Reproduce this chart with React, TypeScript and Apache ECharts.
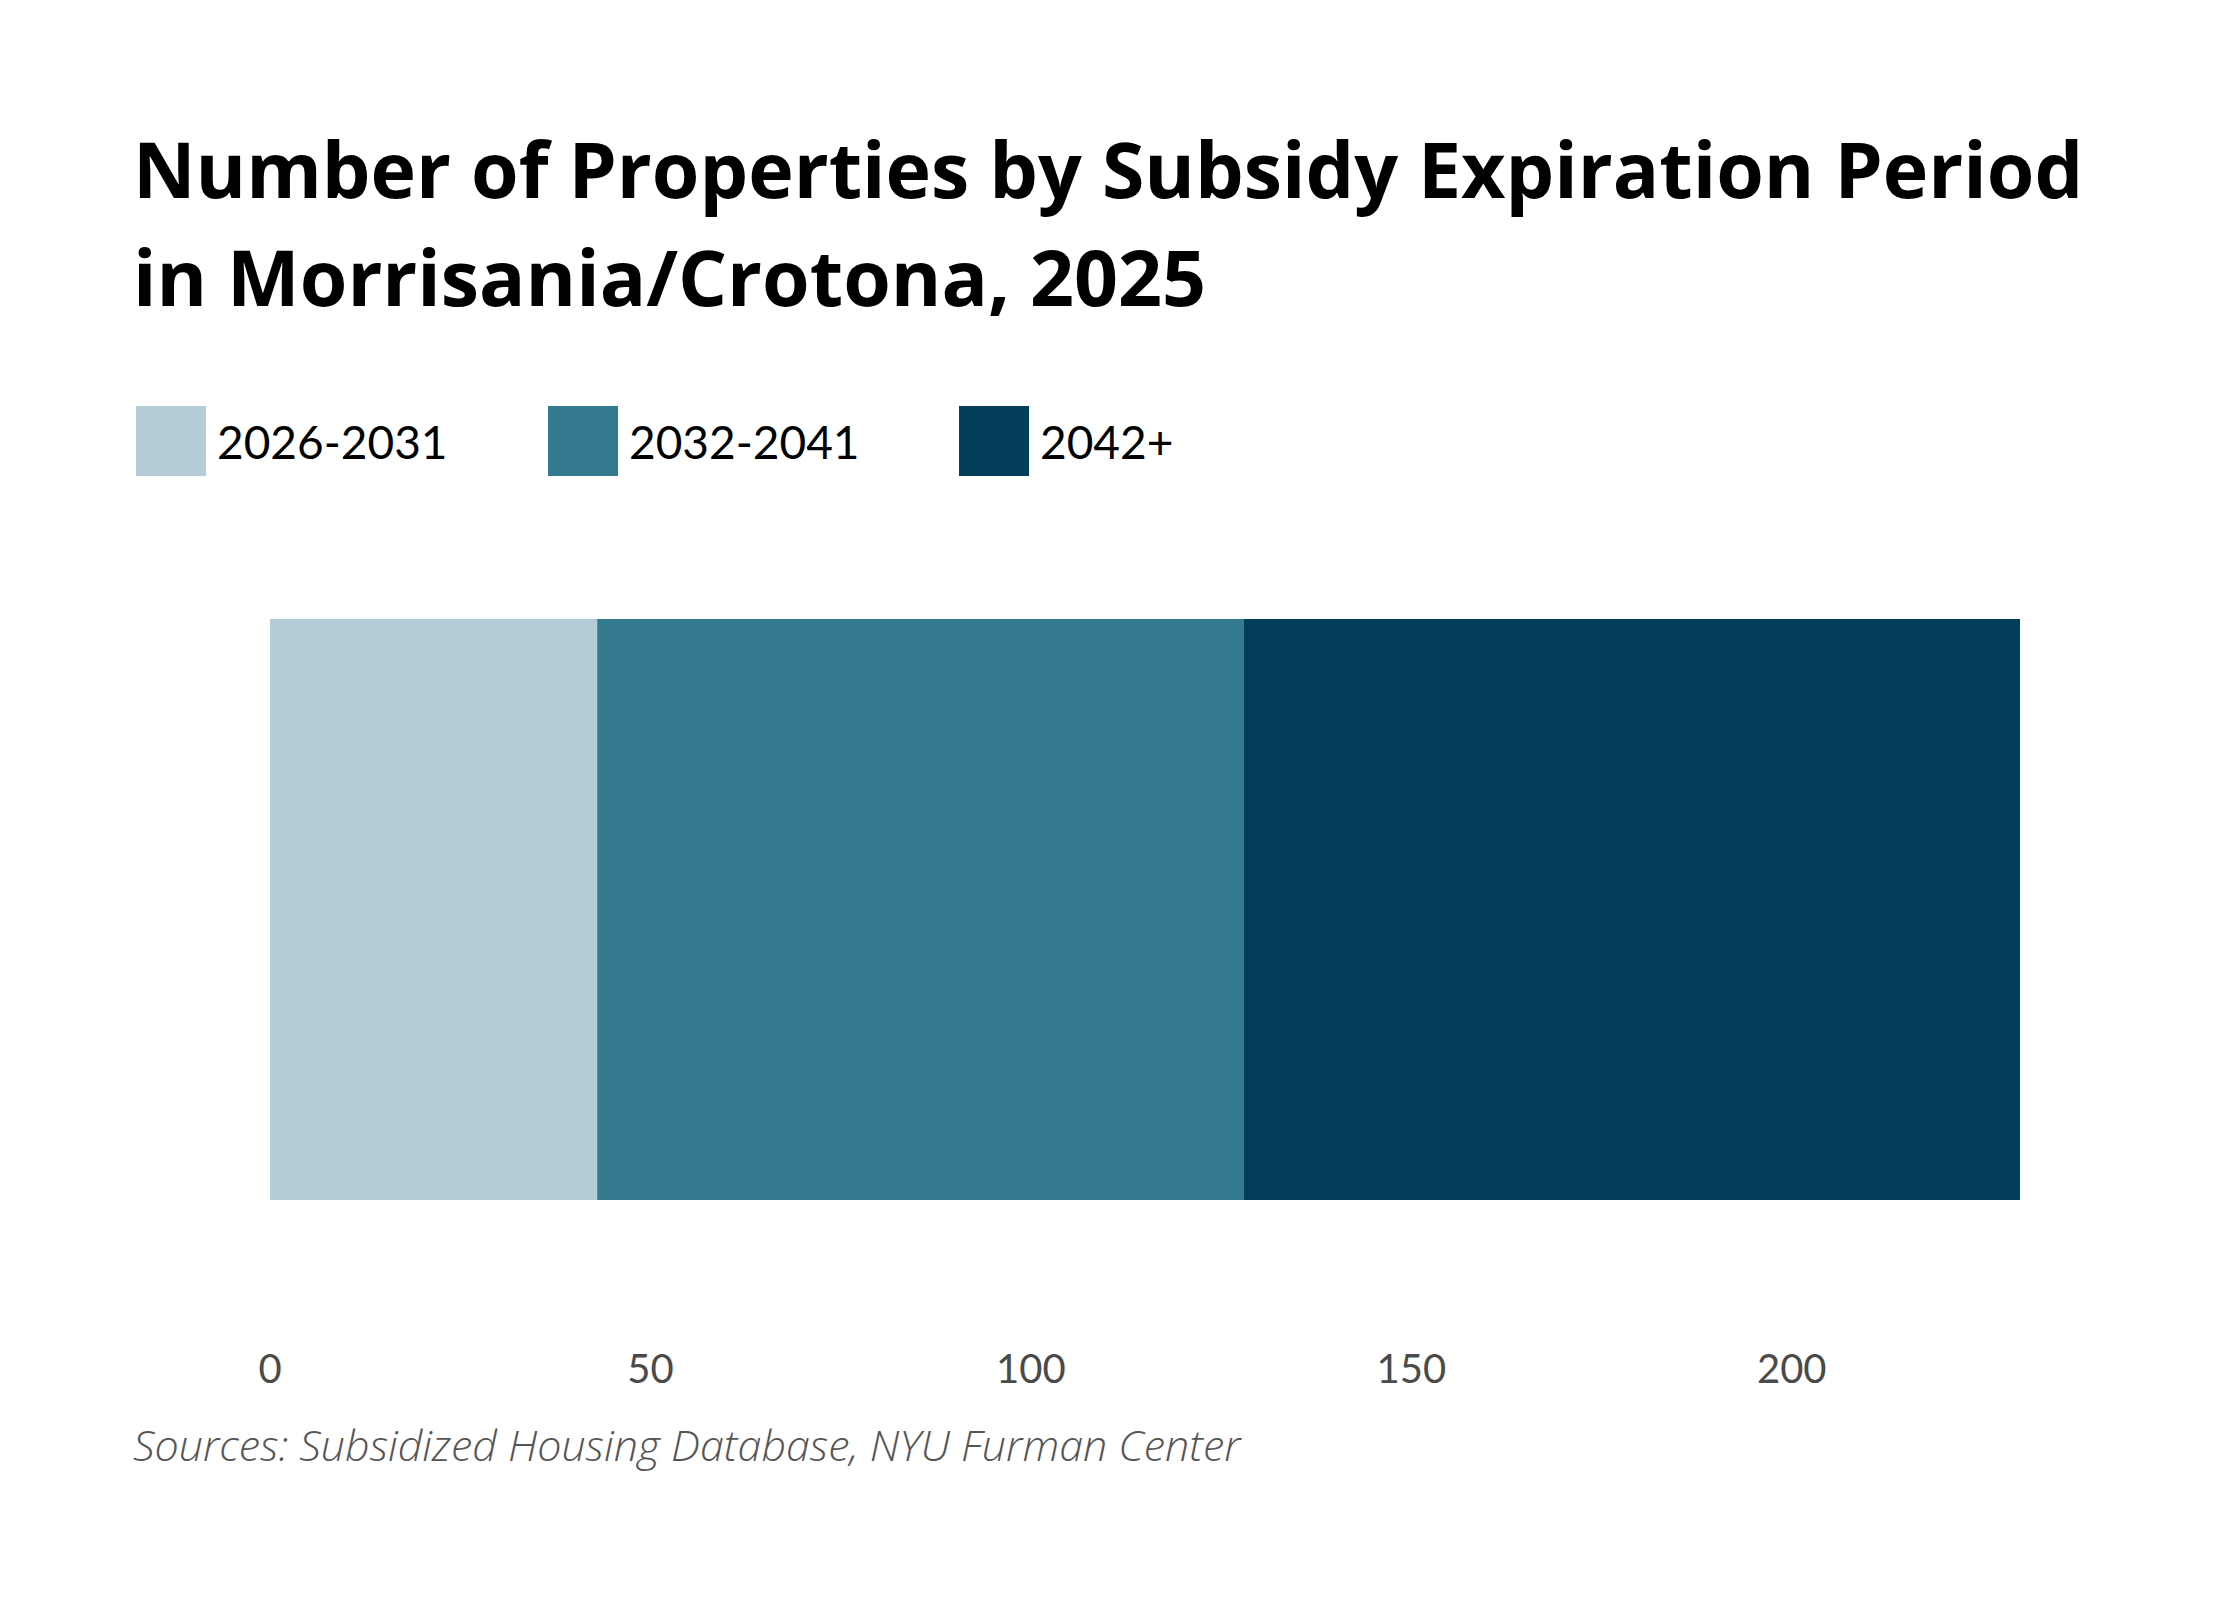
import React, { useEffect, useRef } from "react";
import * as echarts from "echarts";

const categories = ["Morrisania/Crotona"];
const seriesNames = ["2026-2031", "2032-2041", "2042+"];
const seriesValues = [[43], [85], [102]];
const seriesColors = ["#b3ccd6", "#337a8f", "#023e5a"];
const xTicks = { min: 0, max: 230, interval: 50 };
const titleText = "Number of Properties by Subsidy Expiration Period\nin Morrisania/Crotona, 2025";
const sourceText = "Sources: Subsidized Housing Database, NYU Furman Center";

const legendLefts = [136, 548, 959];

export default function App() {
  const ref = useRef<HTMLDivElement>(null);
  useEffect(() => {
    if (!ref.current) return;
    const chart = echarts.init(ref.current, undefined, { renderer: "svg" });
    const option: any = {
      animation: false,
      backgroundColor: "#ffffff",
      title: {
        text: titleText,
        left: 133,
        top: 114,
        padding: 0,
        textStyle: {
          fontFamily: "Open Sans",
          fontWeight: "bold",
          fontSize: 77,
          lineHeight: 108,
          color: "#000000",
        },
      },
      legend: seriesNames.map((n, i) => ({
        data: [n],
        left: legendLefts[i],
        top: 406,
        padding: 0,
        itemWidth: 70,
        itemHeight: 70,
        icon: "rect",
        selectedMode: false,
        textStyle: {
          fontFamily: "Lato",
          fontSize: 46,
          color: "#000000",
          padding: [0, 0, 0, 6],
        },
      })),
      grid: { left: 270, width: 1750, top: 619, height: 581, containLabel: false },
      xAxis: {
        type: "value",
        min: xTicks.min,
        max: xTicks.max,
        interval: xTicks.interval,
        axisLine: { show: false },
        axisTick: { show: false },
        splitLine: { show: false },
        axisLabel: {
          showMaxLabel: false,
          margin: 148,
          fontFamily: "Lato",
          fontSize: 40,
          lineHeight: 40,
          color: "#4a4a4a",
        },
      },
      yAxis: {
        type: "category",
        data: categories,
        show: false,
      },
      series: seriesNames.map((n, i) => ({
        name: n,
        type: "bar",
        stack: "total",
        data: seriesValues[i],
        barCategoryGap: "0%",
        barWidth: "100%",
        itemStyle: { color: seriesColors[i] },
      })),
      graphic: [
        {
          type: "text",
          left: 133,
          top: 1446 - 23,
          style: {
            text: sourceText,
            fontFamily: "Open Sans",
            fontStyle: "italic",
            fontWeight: 300,
            fontSize: 43,
            fill: "#555555",
          },
        },
      ],
    };
    chart.setOption(option);
    return () => chart.dispose();
  }, []);
  return (
    <div
      ref={ref}
      style={{ position: "absolute", left: 0, top: 0, width: 2240, height: 1600, background: "#fff" }}
    />
  );
}
